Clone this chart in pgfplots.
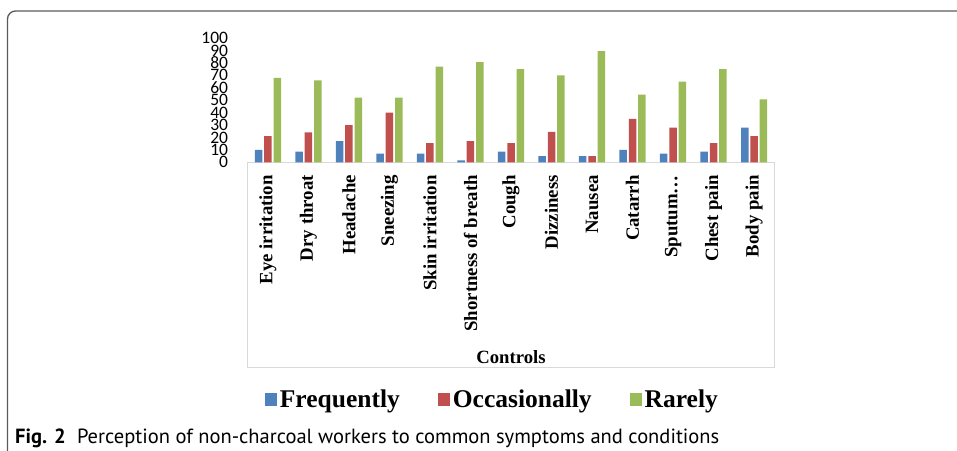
\documentclass[border=0pt]{standalone}
\usepackage{fontspec}
\setmainfont{Liberation Serif}
\newfontfamily\numfont{Carlito}
\newfontfamily\capfont{PT Sans}
\usepackage{pgfplots}
\usepackage{pgfplotstable}
\pgfplotsset{compat=1.18}

\definecolor{freqblue}{HTML}{4F81BD}
\definecolor{occred}{HTML}{C0504D}
\definecolor{raregreen}{HTML}{9BBB59}
\definecolor{boxgray}{HTML}{D9D9D9}
\definecolor{framegray}{HTML}{5A5A5A}

% square swatches in the legend instead of the default bar pictogram
\pgfplotsset{
  ybar legend/.style={
    legend image code/.code={\fill[##1] (0bp,-6.5bp) rectangle (12bp,6.5bp);}},
}

% Percentage of respondents per symptom (controls)
\pgfplotstableread{
idx freq occ rare
0   10   21   68
1   8.5  24   66
2   17   30   52
3   7    40   52
4   7    15.5 77
5   1.6  17   80.5
6   8.6  15.5 75
7   5    24.5 70
8   5    5    89.5
9   10   35   54.5
10  7    28   65
11  8.6  15.5 75
12  28   21   50.7
}\symptoms

\begin{document}
\begin{tikzpicture}
\useasboundingbox (0bp,0bp) rectangle (957bp,-451bp);
% outer panel frame
\draw[framegray, line width=1.3bp]
  (7.5bp,-451bp) -- (7.5bp,-19bp) arc[start angle=180, end angle=90, radius=8bp] -- (957bp,-11bp);
% category area box
\draw[boxgray, line width=1bp] (247.7bp,-162.3bp) rectangle (774.3bp,-367.7bp);

\begin{axis}[
  at={(247.7bp,-162.3bp)}, anchor=south west,
  scale only axis, width=526.6bp, height=124.3bp,
  ymin=0, ymax=100, ytick={0,10,...,100},
  xmin=-0.5, xmax=12.5, xtick={0,...,12},
  xticklabels={Eye irritation, Dry throat, Headache, Sneezing, Skin irritation,
    Shortness of breath, Cough, Dizziness, Nausea, Catarrh, Sputum…, Chest pain, Body pain},
  axis line style={draw=none},
  major tick length=0pt,
  /pgf/number format/assume math mode=true,
  yticklabel style={font=\numfont\fontsize{17.5bp}{18bp}\selectfont, anchor=east, inner sep=0pt, xshift=-19.5bp},
  xticklabel style={yshift=-12.7bp, rotate=90, anchor=east, inner sep=0pt,
    font=\fontsize{18.8bp}{20bp}\selectfont\bfseries},
  xlabel={Controls},
  xlabel style={at={(axis description cs:0.5,-1.617)}, anchor=base, inner sep=0pt,
    font=\fontsize{18.7bp}{20bp}\selectfont\bfseries},
  ybar=1.8bp, bar width=7.5bp,
  legend style={draw=none, fill=none, legend columns=3,
    at={(0.4656,-1.911)}, anchor=center,
    font=\fontsize{25.5bp}{28bp}\selectfont\bfseries,
    nodes={inner xsep=2.5bp, inner ysep=0bp},
    /tikz/every even column/.append style={column sep=36bp}},
]
\addplot[fill=freqblue, draw=none] table[x=idx, y=freq] {\symptoms};
\addplot[fill=occred, draw=none] table[x=idx, y=occ] {\symptoms};
\addplot[fill=raregreen, draw=none] table[x=idx, y=rare] {\symptoms};
\legend{Frequently, Occasionally, Rarely}
\end{axis}

\node[anchor=base west, inner sep=0pt] at (15bp,-443bp)
  {\resizebox{704bp}{!}{\capfont\textbf{Fig. 2}\hspace{0.55em}Perception of non-charcoal workers to common symptoms and conditions}};
\end{tikzpicture}
\end{document}
